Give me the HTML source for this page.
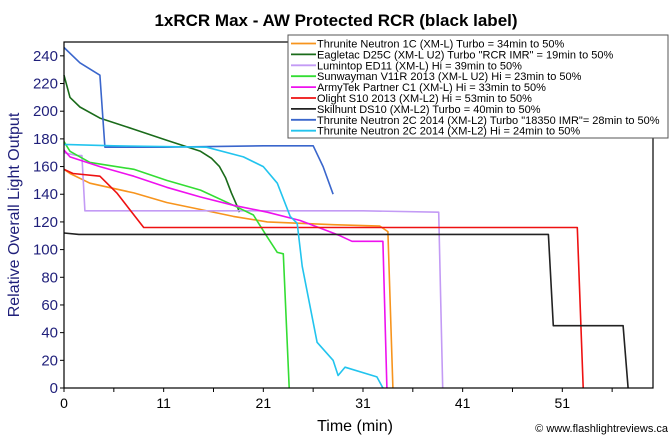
<!DOCTYPE html>
<html><head><meta charset="utf-8"><style>
body{margin:0;background:#fff;font-family:"Liberation Sans",Arial,sans-serif}
svg text{font-family:"Liberation Sans",Arial,sans-serif}
</style></head><body>
<svg id="c" width="671" height="437" viewBox="0 0 671 437" xmlns="http://www.w3.org/2000/svg">
<rect width="671" height="437" fill="#fff"/>
<text x="336" y="26" text-anchor="middle" font-size="17" font-weight="bold">1xRCR Max - AW Protected RCR (black label)</text>
<g id="plot"></g>
<text x="355" y="431" text-anchor="middle" font-size="16">Time (min)</text>
<text transform="translate(19,215) rotate(-90)" text-anchor="middle" font-size="16" fill="#1f1f7a">Relative Overall Light Output</text>
<text x="668" y="432" text-anchor="end" font-size="11">© www.flashlightreviews.ca</text>
</svg>
<script>
const xTicks=[0,10,20,30,40,50];
const xTickLabels=["0","11","21","31","41","51"];
const yTicks=[0,20,40,60,80,100,120,140,160,180,200,220,240];
const seriesNames=["Thrunite Neutron 1C (XM-L) Turbo = 34min to 50%","Eagletac D25C (XM-L U2) Turbo \"RCR IMR\" = 19min to 50%","Lumintop ED11 (XM-L) Hi = 39min to 50%","Sunwayman V11R 2013 (XM-L U2) Hi = 23min to 50%","ArmyTek Partner C1 (XM-L) Hi = 33min to 50%","Olight S10 2013 (XM-L2) Hi = 53min to 50%","Skilhunt DS10 (XM-L2) Turbo = 40min to 50%","Thrunite Neutron 2C 2014 (XM-L2) Turbo \"18350 IMR\"= 28min to 50%","Thrunite Neutron 2C 2014 (XM-L2) Hi = 24min to 50%"];
const seriesColors=["#f7941d","#1a6b1a","#c39bf5","#33dd33","#ee11ee","#ee1111","#222222","#3a66cc","#22c4ee"];
const orangeT=[0,0.6,2.6,7,10.3,13.7,17,20.4,23.7,27,31.7,32.5,33];
const orangeV=[158,155,148,141,134,129,124,120,119,118,117,113,0];
const dgreenT=[0,0.6,1.6,3.6,7,10.3,13.7,14.8,15.6,16.2,16.8,17.4,17.6];
const dgreenV=[226,210,203,195,187,179,171,166,160,152,141,131,127];
const lilacT=[0,1.3,1.8,2.1,10,20,30,37.6,38];
const lilacV=[170,168,168,128,128,128,128,127,0];
const greenT=[0,0.6,2.6,7,10.3,13.7,17,19,20.4,21.4,22,22.6];
const greenV=[178,171,163,158,150,143,132,125,109,98,97,0];
const magentaT=[0,0.6,3.6,7,10.3,13.7,17,20.4,23.7,27,27.7,28.9,32,32.4];
const magentaV=[172,167,160,153,145,138,132,127,121,112,110,106,106,0];
const redT=[0,0.9,3.6,5.3,8,20,35,51.5,52.1];
const redV=[158,155,153,141,116,116,116,116,0];
const blackT=[0,1.5,20,48.6,49.1,56.1,56.6];
const blackV=[112,111,111,111,45,45,0];
const blueT=[0,1.6,3.6,4.1,10,20,25,26,27];
const blueV=[246,235,226,174,174,175,175,160,140];
const cyanT=[0,5,14.3,18,20,21.4,22.7,23.4,23.9,25.4,27,27.5,28.2,31.4,32];
const cyanV=[176,175,174,167,160,148,124,119,88,33,20,9,15,8,0];
const allT=[orangeT,dgreenT,lilacT,greenT,magentaT,redT,blackT,blueT,cyanT];
const allV=[orangeV,dgreenV,lilacV,greenV,magentaV,redV,blackV,blueV,cyanV];
const seriesKeys=["thrunite-1c","eagletac-d25c","lumintop-ed11","sunwayman-v11r","armytek-c1","olight-s10","skilhunt-ds10","thrunite-2c-turbo","thrunite-2c-hi"];

const L=64,R=653,T=42,B=388,XMAX=59.1,YMAX=250;
const xs=t=>L+t*(R-L)/XMAX;
const ys=v=>B-v*(B-T)/YMAX;
const NS="http://www.w3.org/2000/svg";
const g=document.getElementById('plot');
function mk(tag,attrs){const e=document.createElementNS(NS,tag);for(const k in attrs)e.setAttribute(k,attrs[k]);g.appendChild(e);return e;}
yTicks.forEach(v=>{
  const tk=mk('line',{x1:L-4,x2:L,y1:ys(v),y2:ys(v),stroke:'#000'});
  
  
  const tx=mk('text',{x:L-6,y:ys(v)+5,'text-anchor':'end','font-size':15,fill:'#1f1f7a'});
  tx.textContent=v;
  
  
});
for(let t=0;t<=55;t+=5){
  const tk=mk('line',{x1:xs(t),x2:xs(t),y1:B,y2:B+4,stroke:'#000'});
  
  
}
xTicks.forEach((t,i)=>{
  const tx=mk('text',{x:xs(t),y:B+20,'text-anchor':'middle','font-size':14});
  tx.textContent=xTickLabels[i];
  
  
});
allT.forEach((ts,i)=>{
  const pts=ts.map((t,j)=>xs(t).toFixed(1)+','+ys(allV[i][j]).toFixed(1)).join(' ');
  const p=mk('polyline',{points:pts,fill:'none',stroke:seriesColors[i],'stroke-width':1.6,'stroke-linejoin':'round'});
  
  
});
const fr=mk('rect',{x:L,y:T,width:R-L,height:B-T,fill:'none',stroke:'#000','stroke-width':1.2});


const lg=mk('rect',{x:288,y:35,width:380,height:103,fill:'#fff',stroke:'#555','stroke-width':1});


seriesNames.forEach((n,i)=>{
  const y=43.5+i*10.9;
  const ln=mk('line',{x1:291,x2:316,y1:y,y2:y,stroke:seriesColors[i],'stroke-width':1.8});
  
  
  const tx=mk('text',{x:317,y:y+4,'font-size':11});
  tx.textContent=n;
  
  
});
</script>
</body></html>
